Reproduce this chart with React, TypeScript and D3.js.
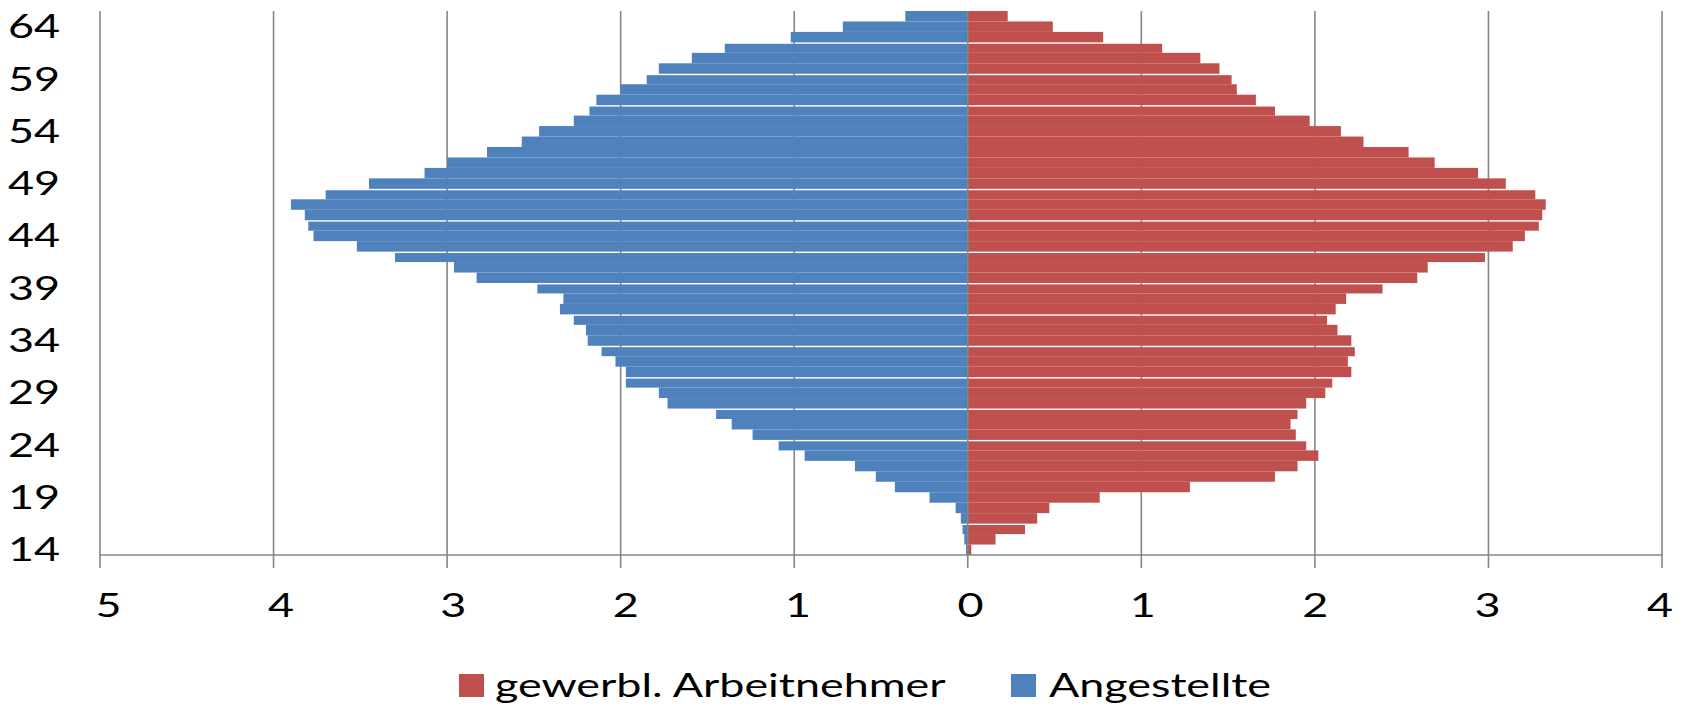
import * as React from 'react';
import * as d3 from 'd3';

// age groups, bottom to top
const ages = [
  14, 15, 16, 17, 18, 19, 20, 21, 22, 23, 24, 25, 26,
  27, 28, 29, 30, 31, 32, 33, 34, 35, 36, 37, 38, 39,
  40, 41, 42, 43, 44, 45, 46, 47, 48, 49, 50, 51, 52,
  53, 54, 55, 56, 57, 58, 59, 60, 61, 62, 63, 64, 65,
];

// Angestellte (left side), same order as ages
const angestellte = [
  0.01, 0.02, 0.03, 0.04, 0.07, 0.22, 0.42, 0.53, 0.65, 0.94, 1.09, 1.24, 1.36,
  1.45, 1.73, 1.78, 1.97, 1.97, 2.03, 2.11, 2.19, 2.20, 2.27, 2.35, 2.33, 2.48,
  2.83, 2.96, 3.30, 3.52, 3.77, 3.80, 3.82, 3.90, 3.70, 3.45, 3.13, 3.00, 2.77,
  2.57, 2.47, 2.27, 2.18, 2.14, 2.00, 1.85, 1.78, 1.59, 1.40, 1.02, 0.72, 0.36,
];

// gewerbl. Arbeitnehmer (right side)
const gewerblich = [
  0.02, 0.16, 0.33, 0.40, 0.47, 0.76, 1.28, 1.77, 1.90, 2.02, 1.95, 1.89, 1.86,
  1.90, 1.95, 2.06, 2.10, 2.21, 2.19, 2.23, 2.21, 2.13, 2.07, 2.12, 2.18, 2.39,
  2.59, 2.65, 2.98, 3.14, 3.21, 3.29, 3.31, 3.33, 3.27, 3.10, 2.94, 2.69, 2.54,
  2.28, 2.15, 1.97, 1.77, 1.66, 1.55, 1.52, 1.45, 1.34, 1.12, 0.78, 0.49, 0.23,
];

const xTicks = [-5, -4, -3, -2, -1, 0, 1, 2, 3, 4];
const yTickAges = [14, 19, 24, 29, 34, 39, 44, 49, 54, 59, 64];

// the original image shows thin white seams above these age bars
const seamAges = [62, 59, 56, 48, 45, 42, 39, 36, 33, 30, 27, 24, 16];

const legendItems = [
  { label: 'gewerbl. Arbeitnehmer', color: '#C0504D' },
  { label: 'Angestellte', color: '#4F81BD' },
];

const width = 1682;
const height = 706;
const plotTop = 11;
const plotBottom = 555;
const tickLen = 13;
const gridColor = '#868686';
const font = "Lato, 'Open Sans', sans-serif";
const fontSize = 33;
// the source picture is stretched sideways, so text is too
const stretch = 1.36;

const Label = ({ x, y, anchor = 'start', children }: any) => (
  <text
    transform={`translate(${x},${y}) scale(${stretch},1)`}
    textAnchor={anchor}
    fontFamily={font}
    fontSize={fontSize}
    fill="#000"
  >
    {children}
  </text>
);

const App = () => {
  const x = d3.scaleLinear().domain([-5, 4]).range([100, 1662]);
  // labels sit a little off the gridlines in the original
  const xLabel = d3.scaleLinear().domain([-5, 4]).range([108.5, 1660]);
  const y = d3.scaleBand<number>()
    .domain(ages.slice().reverse())
    .range([plotTop, plotBottom])
    .paddingInner(0);
  const bw = y.bandwidth();
  const seam = 1.4;
  const seams = new Set(seamAges);

  const barY = (age: number) => (y(age) as number) + (seams.has(age) ? seam : 0);
  const barH = (age: number) => bw - (seams.has(age) ? seam : 0);

  return (
    <div style={{ position: 'absolute', left: 0, top: 0 }}>
      <svg width={width} height={height} style={{ display: 'block', background: '#fff' }}>
        {/* vertical gridlines with tick marks below the axis */}
        <g>
          {xTicks.filter(t => t !== 0).map(t => (
            <line
              key={t}
              x1={x(t)}
              x2={x(t)}
              y1={plotTop}
              y2={plotBottom + tickLen}
              stroke={gridColor}
              strokeWidth={1.6}
            />
          ))}
        </g>

        {/* bars */}
        <g>
          {ages.map((age, i) => (
            <rect
              key={`a${age}`}
              x={x(-angestellte[i])}
              y={barY(age)}
              width={x(0) - x(-angestellte[i])}
              height={barH(age)}
              fill="#4F81BD"
            />
          ))}
          {ages.map((age, i) => (
            <rect
              key={`g${age}`}
              x={x(0)}
              y={barY(age)}
              width={x(gewerblich[i]) - x(0)}
              height={barH(age)}
              fill="#C0504D"
            />
          ))}
        </g>

        {/* axes */}
        <line x1={x(-5)} x2={x(4)} y1={plotBottom} y2={plotBottom} stroke={gridColor} strokeWidth={1.6} />
        <line x1={x(0)} x2={x(0)} y1={plotTop} y2={plotBottom + tickLen} stroke={gridColor} strokeWidth={1.6} />

        {/* x tick labels: absolute values */}
        <g>
          {xTicks.map(t => (
            <Label key={t} x={xLabel(t)} y={617} anchor="middle">
              {Math.abs(t)}
            </Label>
          ))}
        </g>

        {/* age labels */}
        <g>
          {yTickAges.map(a => (
            <Label key={a} x={60} y={(y(a) as number) + bw / 2 + 11.5} anchor="end">
              {a}
            </Label>
          ))}
        </g>

        {/* legend */}
        <g>
          <rect x={459} y={674} width={25} height={23} fill={legendItems[0].color} />
          <Label x={495} y={697}>{legendItems[0].label}</Label>
          <rect x={1011} y={674} width={25} height={23} fill={legendItems[1].color} />
          <Label x={1049} y={697}>{legendItems[1].label}</Label>
        </g>
      </svg>
    </div>
  );
};

export default App;
